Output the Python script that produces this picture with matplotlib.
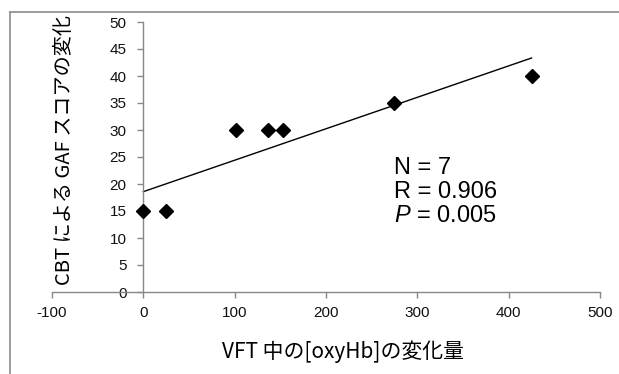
import matplotlib
matplotlib.use("Agg")
import matplotlib.pyplot as plt
from matplotlib.lines import Line2D
import numpy as np

# data
oxy_change = [0, 25, 101, 137, 153, 274, 425]
gaf_change = [15, 15, 30, 30, 30, 35, 40]
x_ticks = [-100, 0, 100, 200, 300, 400, 500]
y_ticks = [0, 5, 10, 15, 20, 25, 30, 35, 40, 45, 50]
stats_text = "N = 7\nR = 0.906\n$P$ = 0.005"

plt.rcParams["mathtext.fontset"] = "custom"
plt.rcParams["mathtext.rm"] = "Liberation Sans"
plt.rcParams["mathtext.it"] = "Liberation Sans:italic"

W, H = 619, 374
fig = plt.figure(figsize=(W / 100, H / 100), dpi=100)
fig.patch.set_facecolor("white")

# outer frame (left and top only)
frame_col = "#8c8c8c"
fig.add_artist(Line2D([10 / W, 10 / W], [0, 1 - 12 / H], color=frame_col, lw=1.2))
fig.add_artist(Line2D([10 / W, 1], [1 - 12 / H, 1 - 12 / H], color=frame_col, lw=1.2))

ax = fig.add_axes([52 / W, 1 - 292 / H, (600 - 52) / W, (292 - 22) / H])
ax.set_xlim(-100, 500)
ax.set_ylim(0, 50)

ax.spines["left"].set_position(("data", 0))
ax.spines["top"].set_visible(False)
ax.spines["right"].set_visible(False)
for s in ("left", "bottom"):
    ax.spines[s].set_color("#888888")
    ax.spines[s].set_linewidth(1.0)

tick_font = {"family": ["Liberation Sans Narrow", "Liberation Sans"], "size": 11}
ax.set_xticks(x_ticks)
ax.set_yticks(y_ticks)
ax.set_xticklabels([str(v) for v in x_ticks], fontdict=tick_font, color="#111111")
ax.set_yticklabels([str(v) for v in y_ticks], fontdict=tick_font, color="#111111")
ax.tick_params(axis="both", direction="out", length=4, width=1.0, color="#888888")
ax.tick_params(axis="x", pad=6)
ax.tick_params(axis="y", pad=8)

# scatter points and linear trend line
ax.plot(oxy_change, gaf_change, linestyle="none", marker="D", markersize=7.5,
        color="black", clip_on=False, zorder=3)
slope, intercept = np.polyfit(oxy_change, gaf_change, 1)
xs = np.array([0, max(oxy_change)])
ax.plot(xs, slope * xs + intercept, color="black", lw=1.0)

ax.text(275, 18.5, stats_text, family="Liberation Sans", fontsize=17,
        va="center", ha="left", linespacing=1.1)

jp = ["Noto Sans CJK JP", "DejaVu Sans"]
fig.text(343 / W, 1 - 352 / H, "VFT 中の[oxyHb]の変化量", family=jp,
         fontsize=15, ha="center", va="center")
fig.text(65 / W, 1 - 150 / H, "CBT による GAF スコアの変化", family=jp,
         fontsize=14.5, ha="center", va="center", rotation=90,
         bbox=dict(facecolor="white", edgecolor="none", pad=1))

fig.savefig("out.png", dpi=100)
